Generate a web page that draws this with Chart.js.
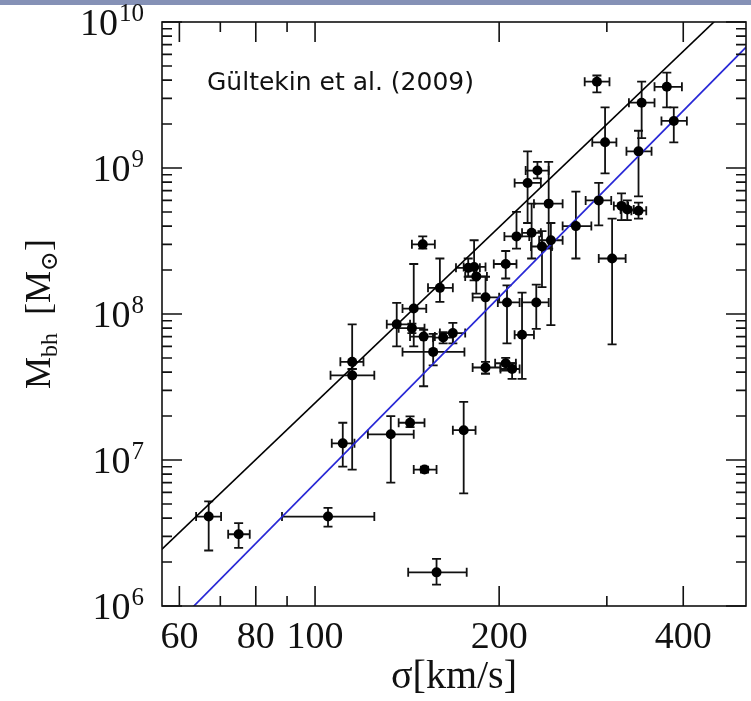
<!DOCTYPE html>
<html>
<head>
<meta charset="utf-8">
<script src="https://cdn.jsdelivr.net/npm/chart.js@4.4.1/dist/chart.umd.min.js"></script>
<style>
  body { margin: 0; background: #fff; }
  #wrap { width: 751px; height: 701px; }
</style>
</head>
<body>
<div id="wrap"><canvas id="msigma" width="751" height="701"></canvas></div>
<script>
// velocity dispersion (km/s) with its error range
var sigma   = [67, 75, 105, 158, 151, 111, 133, 143, 175, 115, 115, 136, 145, 144, 150.5, 162, 168, 156, 160, 150,
               178, 182, 183.5, 205, 190, 206, 230, 218, 190, 205, 210, 213.5, 226, 235, 243, 241, 222.6, 231, 267, 291,
               317, 324, 338, 306, 298, 338, 342, 376, 386, 289];
var sigmaLo = [63.9, 72.1, 88.3, 142, 145, 106.5, 122, 137, 168, 110, 106, 131, 139, 137, 143, 156, 160, 139, 153, 144,
               170, 175, 176, 196, 181, 199, 218, 212, 181, 197, 201, 204, 218, 225.5, 232.5, 228, 212, 221, 254, 277,
               308, 316, 329, 291, 284, 323, 326, 359, 368.5, 276];
var sigmaHi = [70.2, 78.2, 125, 177, 158, 116, 145, 151, 183, 120, 125, 143, 152, 151, 157, 168, 176, 175.5, 168, 157,
               186, 190, 191, 213.5, 200, 216, 241, 228, 201, 213, 216, 224, 234, 244, 254, 254, 234, 241, 283, 305,
               325, 332, 348, 322, 311, 355, 359, 398, 405.5, 303];
// black hole mass (solar masses) with its error range
var mass    = [4.1e6, 3.1e6, 4.1e6, 1.7e6, 8.6e6, 1.3e7, 1.5e7, 1.8e7, 1.6e7, 4.7e7, 3.8e7, 8.5e7, 1.09e8, 8.0e7, 7.0e7, 6.9e7, 7.4e7, 5.5e7, 1.51e8, 3.0e8,
               2.07e8, 2.1e8, 1.81e8, 2.2e8, 1.3e8, 1.2e8, 1.2e8, 7.2e7, 4.3e7, 4.6e7, 4.2e7, 3.4e8, 3.6e8, 2.9e8, 3.2e8, 5.7e8, 7.9e8, 9.6e8, 4.0e8, 6.0e8,
               5.5e8, 5.2e8, 5.1e8, 2.4e8, 1.5e9, 1.3e9, 2.8e9, 3.6e9, 2.1e9, 3.9e9];
var massLo  = [2.4e6, 2.5e6, 3.5e6, 1.4e6, 8.2e6, 9.0e6, 7.0e6, 1.68e7, 5.9e6, 4.2e7, 8.6e6, 6.0e7, 6.0e7, 7.4e7, 3.2e7, 6.3e7, 6.3e7, 4.45e7, 1.21e8, 2.8e8,
               1.8e8, 1.7e8, 1.38e8, 1.75e8, 3.9e7, 6.3e7, 7.9e7, 3.6e7, 3.9e7, 4.1e7, 3.6e7, 2.8e8, 2.4e8, 1.53e8, 8.4e7, 2.8e8, 4.2e8, 8.5e8, 2.4e8, 4.05e8,
               4.4e8, 4.4e8, 4.5e8, 6.2e7, 9.2e8, 6.4e8, 1.6e9, 2.6e9, 1.5e9, 3.3e9];
var massHi  = [5.2e6, 3.7e6, 4.7e6, 2.1e6, 9.0e6, 1.8e7, 2.0e7, 1.99e7, 2.5e7, 8.5e7, 4.2e7, 1.19e8, 2.2e8, 8.6e7, 7.8e7, 7.5e7, 8.7e7, 7.3e7, 2.4e8, 3.4e8,
               2.4e8, 3.2e8, 2.1e8, 2.7e8, 1.8e8, 1.57e8, 1.59e8, 1.4e8, 4.7e7, 5.0e7, 4.6e7, 5.0e8, 5.7e8, 3.7e8, 4.2e8, 1.1e9, 1.3e9, 1.1e9, 6.9e8, 7.9e8,
               6.7e8, 6.0e8, 5.8e8, 4.5e8, 2.6e9, 1.8e9, 3.9e9, 4.5e9, 2.6e9, 4.3e9];

// the two relations drawn across the plot (end points)
var fitSigma    = [55, 520];
var fitUpper    = [2.25e6, 1.80e10];
var fitGultekin = [5.48e5, 7.51e9];

var xTicks = [60, 80, 100, 200, 400];
var xMinorTicks = [70, 90, 300];
var yTicks = [1e6, 1e7, 1e8, 1e9, 1e10];
var yExponents = ['6', '7', '8', '9', '10'];

var serif = '"Liberation Serif", "DejaVu Serif", serif';

var topBand = {
  id: 'topBand',
  beforeDraw: function(chart) {
    var ctx = chart.ctx;
    ctx.save();
    ctx.fillStyle = '#fff';
    ctx.fillRect(0, 0, chart.width, chart.height);
    ctx.fillStyle = '#8591b6';
    ctx.fillRect(0, 0, chart.width, 5);
    ctx.restore();
  }
};

var errorBars = {
  id: 'errorBars',
  beforeDatasetsDraw: function(chart) {
    var ctx = chart.ctx, xs = chart.scales.x, ys = chart.scales.y;
    var cap = 4.5;
    ctx.save();
    ctx.strokeStyle = '#111';
    ctx.lineWidth = 1.8;
    sigma.forEach(function(s, i) {
      var px = xs.getPixelForValue(s), py = ys.getPixelForValue(mass[i]);
      var x0 = xs.getPixelForValue(sigmaLo[i]), x1 = xs.getPixelForValue(sigmaHi[i]);
      var y0 = ys.getPixelForValue(massLo[i]), y1 = ys.getPixelForValue(massHi[i]);
      ctx.beginPath();
      ctx.moveTo(x0, py); ctx.lineTo(x1, py);
      ctx.moveTo(x0, py - cap); ctx.lineTo(x0, py + cap);
      ctx.moveTo(x1, py - cap); ctx.lineTo(x1, py + cap);
      ctx.moveTo(px, y0); ctx.lineTo(px, y1);
      ctx.moveTo(px - cap, y0); ctx.lineTo(px + cap, y0);
      ctx.moveTo(px - cap, y1); ctx.lineTo(px + cap, y1);
      ctx.stroke();
    });
    ctx.restore();
  }
};

var frame = {
  id: 'frame',
  afterDraw: function(chart) {
    var ctx = chart.ctx, a = chart.chartArea, xs = chart.scales.x, ys = chart.scales.y;
    ctx.save();
    ctx.strokeStyle = '#111';
    ctx.lineWidth = 1.6;
    ctx.strokeRect(a.left, a.top, a.right - a.left, a.bottom - a.top);
    ctx.beginPath();
    function xTick(v, len) {
      var px = xs.getPixelForValue(v);
      ctx.moveTo(px, a.bottom); ctx.lineTo(px, a.bottom - len);
      ctx.moveTo(px, a.top); ctx.lineTo(px, a.top + len);
    }
    function yTick(v, len) {
      var py = ys.getPixelForValue(v);
      ctx.moveTo(a.left, py); ctx.lineTo(a.left + len, py);
      ctx.moveTo(a.right, py); ctx.lineTo(a.right - len, py);
    }
    xTicks.forEach(function(v) { xTick(v, 20); });
    xMinorTicks.forEach(function(v) { xTick(v, 10); });
    yTicks.forEach(function(v) { yTick(v, 20); });
    for (var e = 6; e < 10; e++) {
      for (var m = 2; m < 10; m++) yTick(m * Math.pow(10, e), 10);
    }
    ctx.stroke();

    // y tick labels: 10 with a raised exponent
    ctx.fillStyle = '#111';
    ctx.textBaseline = 'alphabetic';
    yTicks.forEach(function(v, i) {
      var py = ys.getPixelForValue(v);
      ctx.font = '38px ' + serif;
      var wb = ctx.measureText('10').width;
      ctx.font = '25px ' + serif;
      var we = ctx.measureText(yExponents[i]).width;
      var x0 = a.left - 18 - wb - we - 1;
      ctx.font = '38px ' + serif;
      ctx.fillText('10', x0, py + 13);
      ctx.font = '25px ' + serif;
      ctx.fillText(yExponents[i], x0 + wb + 1, py - 1);
    });

    // y axis title with subscripts
    ctx.translate(38, (a.top + a.bottom) / 2);
    ctx.rotate(-Math.PI / 2);
    var big = '36px ' + serif, small = '24px ' + serif;
    var parts = [['M', big, 0], ['bh', small, 7], ['  [M', big, 0], ['\u2299', small, 7], [']', big, 0]];
    var w = 0;
    parts.forEach(function(p) { ctx.font = p[1]; w += ctx.measureText(p[0]).width; });
    var cx = -w / 2;
    parts.forEach(function(p) {
      ctx.font = p[1];
      ctx.fillText(p[0], cx, 12 + p[2]);
      cx += ctx.measureText(p[0]).width;
    });
    ctx.restore();

    ctx.save();
    ctx.fillStyle = '#111';
    ctx.font = '25px "DejaVu Sans", sans-serif';
    ctx.textBaseline = 'alphabetic';
    ctx.fillText('G\u00fcltekin et al. (2009)', 207, 90);
    ctx.restore();
  }
};

var ctx = document.getElementById('msigma').getContext('2d');
var chart = new Chart(ctx, {
  type: 'scatter',
  data: {
    datasets: [
      {
        label: 'galaxies',
        data: sigma.map(function(s, i) { return { x: s, y: mass[i] }; }),
        backgroundColor: '#000',
        borderWidth: 0,
        pointRadius: 5,
        pointHoverRadius: 5
      },
      {
        label: 'upper relation',
        data: fitSigma.map(function(s, i) { return { x: s, y: fitUpper[i] }; }),
        showLine: true,
        borderColor: '#000',
        borderWidth: 1.6,
        pointRadius: 0,
        clip: 0
      },
      {
        label: 'Gultekin fit',
        data: fitSigma.map(function(s, i) { return { x: s, y: fitGultekin[i] }; }),
        showLine: true,
        borderColor: '#2828d6',
        borderWidth: 1.7,
        pointRadius: 0,
        clip: 0
      }
    ]
  },
  options: {
    responsive: false,
    animation: false,
    devicePixelRatio: 1,
    layout: { padding: { left: 0, right: 3, top: 22, bottom: 0 } },
    plugins: {
      legend: { display: false },
      tooltip: { enabled: false }
    },
    scales: {
      x: {
        type: 'logarithmic',
        min: 56.2,
        max: 506.6,
        grid: { display: false },
        border: { display: false },
        afterBuildTicks: function(scale) {
          scale.ticks = xTicks.map(function(v) { return { value: v }; });
        },
        afterFit: function(scale) {
          scale.height = 95;
          scale.paddingLeft = 0;
          scale.paddingRight = 0;
        },
        ticks: {
          autoSkip: false,
          maxRotation: 0,
          padding: 1,
          color: '#111',
          font: { family: serif, size: 38 },
          callback: function(v) { return String(v); }
        },
        title: {
          display: true,
          text: '\u03c3[km/s]',
          color: '#111',
          padding: { top: 0, bottom: 0 },
          font: { family: serif, size: 40 }
        }
      },
      y: {
        type: 'logarithmic',
        min: 1e6,
        max: 1e10,
        grid: { display: false },
        border: { display: false },
        afterBuildTicks: function(scale) {
          scale.ticks = yTicks.map(function(v) { return { value: v }; });
        },
        afterFit: function(scale) {
          scale.width = 162;
          scale.paddingTop = 0;
          scale.paddingBottom = 0;
        },
        ticks: { display: false }
      }
    }
  },
  plugins: [topBand, errorBars, frame]
});
</script>
</body>
</html>
